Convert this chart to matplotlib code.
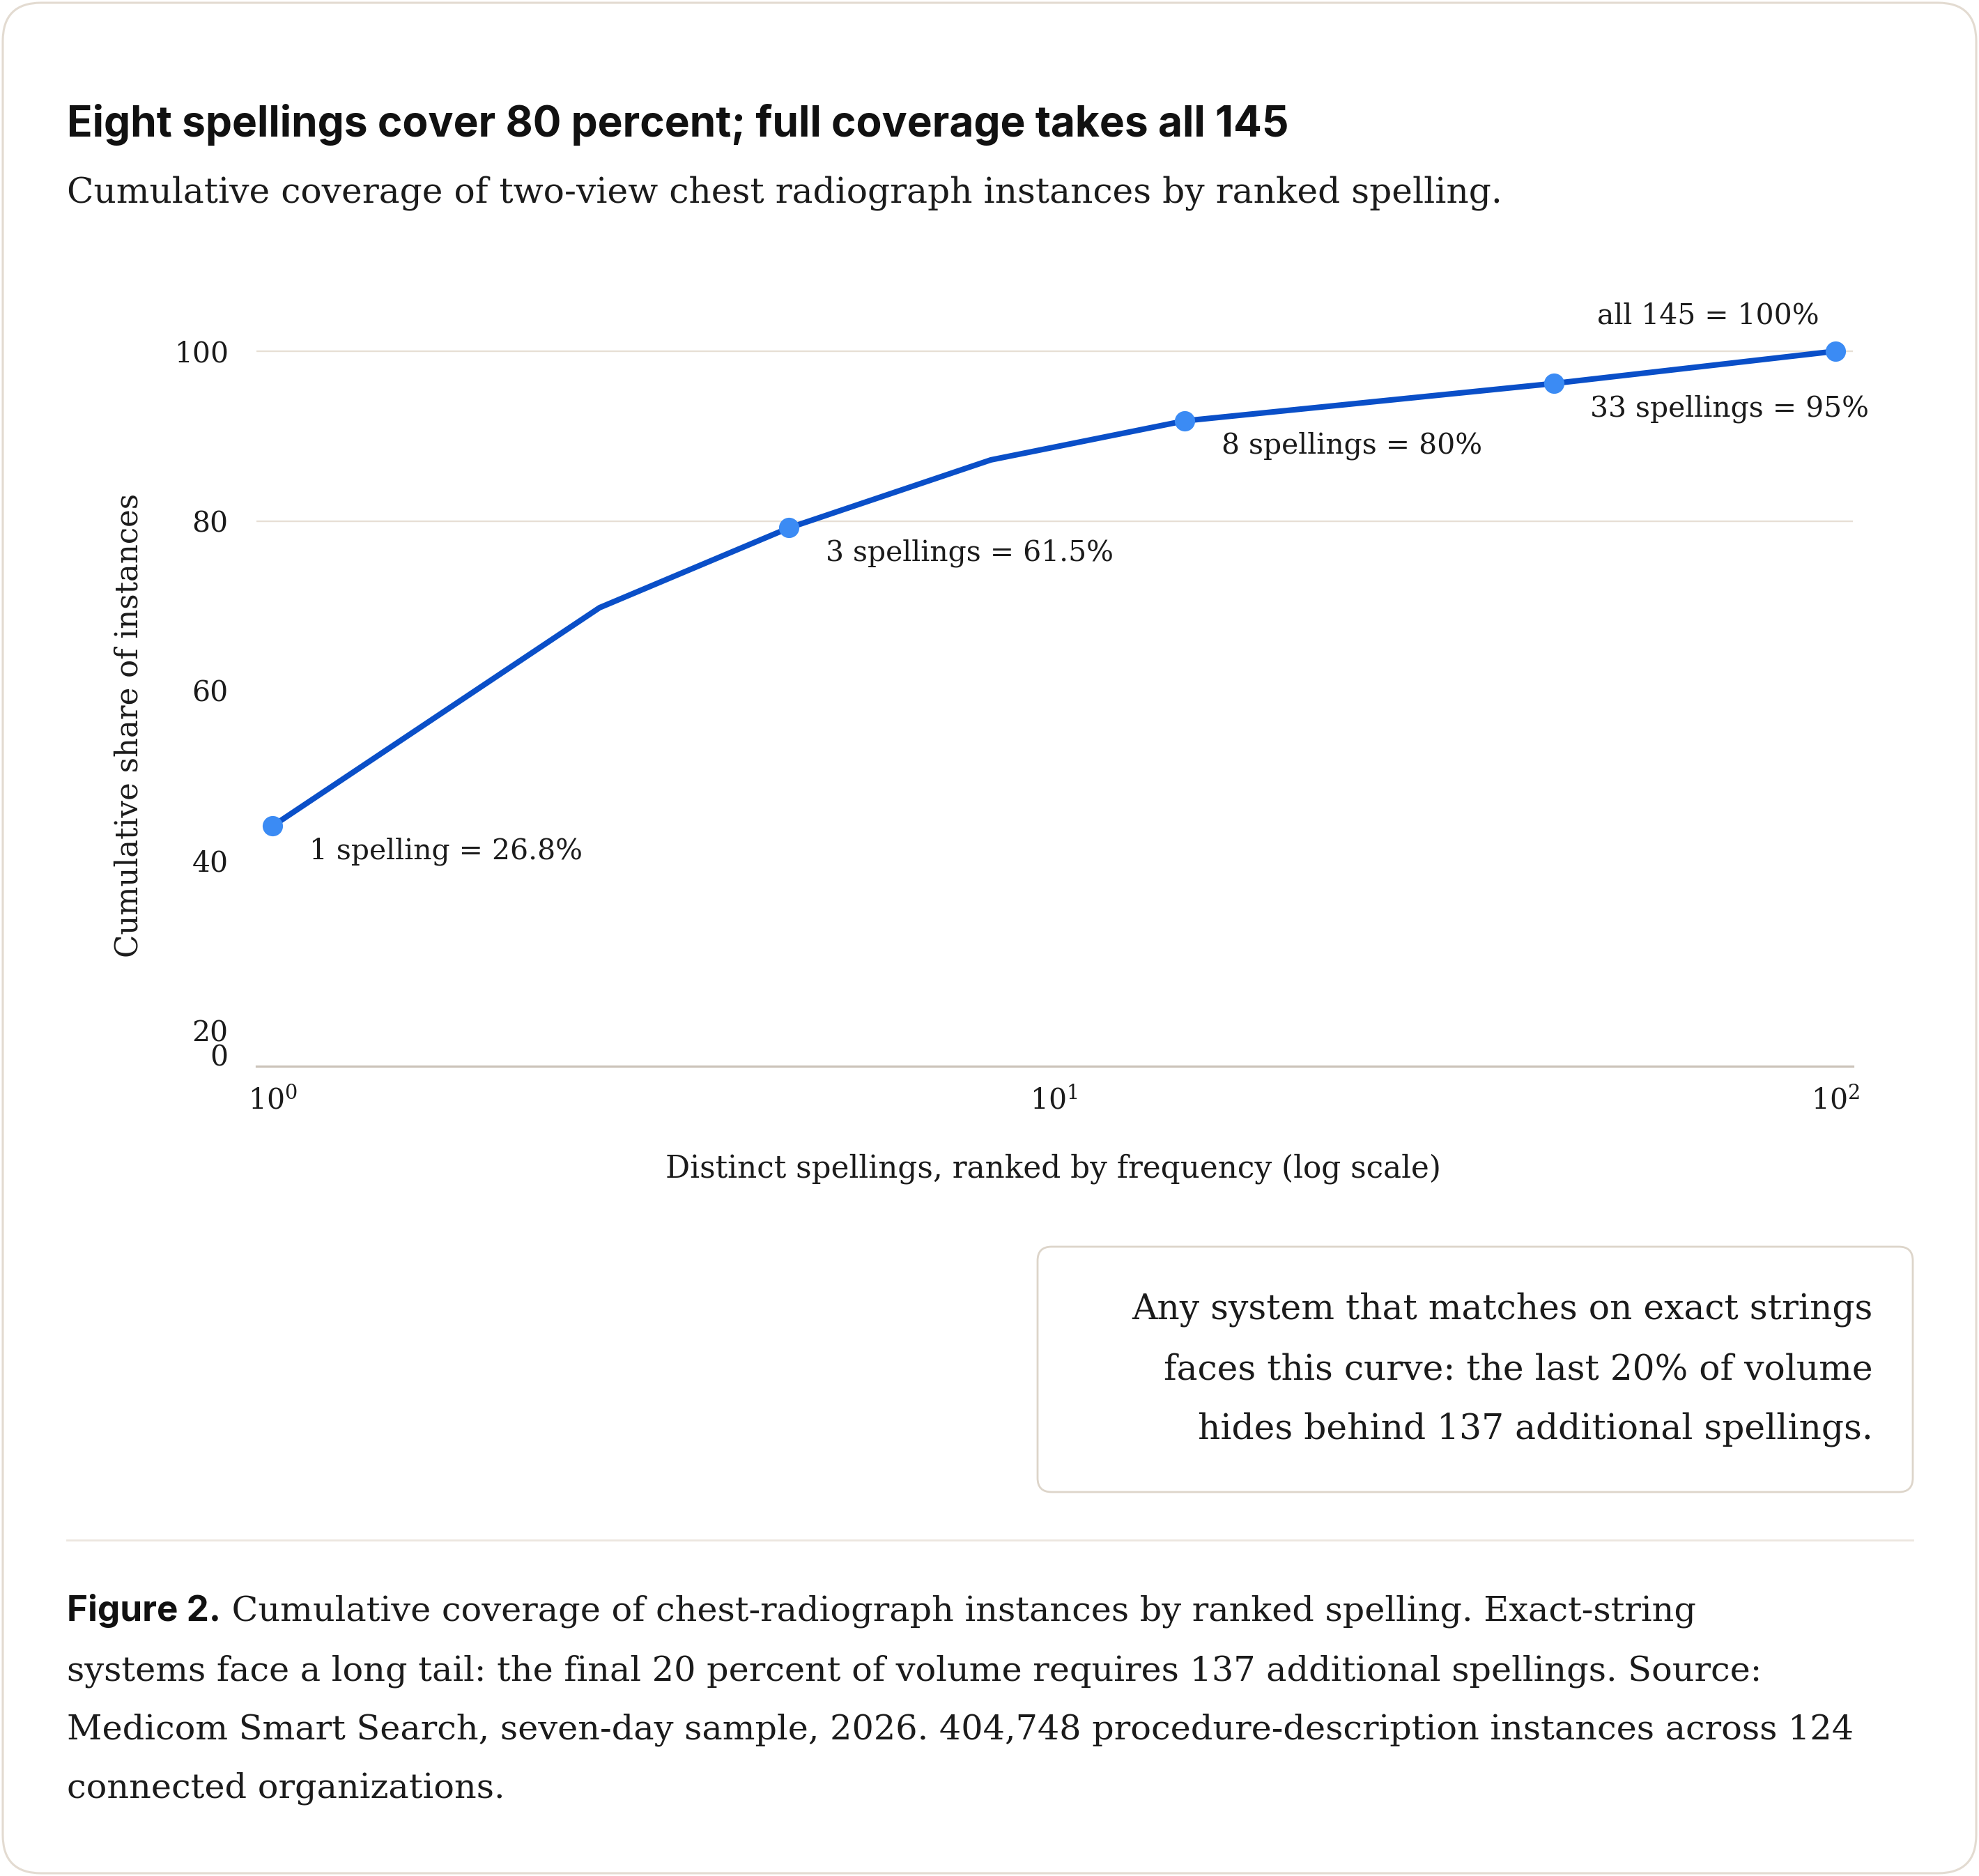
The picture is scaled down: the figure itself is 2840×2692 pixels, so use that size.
import matplotlib
matplotlib.use('Agg')
import matplotlib.pyplot as plt
from matplotlib.patches import FancyBboxPatch
from matplotlib.lines import Line2D
from matplotlib.transforms import IdentityTransform
from matplotlib.ticker import FixedLocator, LogFormatterSciNotation, NullLocator

# ---------------- data ----------------
ranks = [1, 2.62, 4.58, 8.3, 14.7, 43.6, 100]
shares = [44.1, 69.8, 79.2, 87.2, 91.8, 96.2, 100]
marked_idx = [0, 2, 4, 5, 6]
point_labels = ['1 spelling = 26.8%', '3 spellings = 61.5%', '8 spellings = 80%',
                '33 spellings = 95%', 'all 145 = 100%']
y_ticks = [100, 80, 60, 40, 20, 17.1]
y_tick_labels = ['100', '80', '60', '40', '20', '0']
x_ticks = [1, 10, 100]
grid_values = [100, 80]

title = 'Eight spellings cover 80 percent; full coverage takes all 145'
subtitle = 'Cumulative coverage of two-view chest radiograph instances by ranked spelling.'
x_label = 'Distinct spellings, ranked by frequency (log scale)'
y_label = 'Cumulative share of instances'
callout_lines = ['Any system that matches on exact strings',
                 'faces this curve: the last 20% of volume',
                 'hides behind 137 additional spellings.']
caption_lead = 'Figure 2.'
caption_lines = [' Cumulative coverage of chest-radiograph instances by ranked spelling. Exact-string',
                 'systems face a long tail: the final 20 percent of volume requires 137 additional spellings. Source:',
                 'Medicom Smart Search, seven-day sample, 2026. 404,748 procedure-description instances across 124',
                 'connected organizations.']

# ---------------- style ----------------
W, H = 2840, 2692
SERIF = 'DejaVu Serif'
SANS = 'Inter'
plt.rcParams['font.family'] = SERIF
plt.rcParams['mathtext.fontset'] = 'dejavuserif'
TXT = '#1b1b1b'
LINE_C = '#0a4fc8'
DOT_C = '#3b8bf4'
GRID_C = '#e7dfd5'
AXIS_C = '#cbc3b9'
BORDER_C = '#e3dbd1'

fig = plt.figure(figsize=(W / 100, H / 100), dpi=100)
fig.patch.set_facecolor('white')
renderer = fig.canvas.get_renderer()


def fx(x):
    return x / W


def fy(y):
    return 1 - y / H


def text_width(s, size, family, weight='normal', rotation=0):
    t = fig.text(0, 0, s, fontsize=size, family=family, weight=weight)
    w = t.get_window_extent(renderer).width
    t.remove()
    return w


def fit_size(s, target, family, weight='normal'):
    return 30 * target / text_width(s, 30, family, weight)


# card border
fig.add_artist(FancyBboxPatch((4, 4), W - 8, H - 8,
                              boxstyle='round,pad=0,rounding_size=55',
                              transform=IdentityTransform(), facecolor='white',
                              edgecolor=BORDER_C, linewidth=2.2, zorder=0))

# title & subtitle
ts = fit_size(title, 1755, SANS, 'bold')
fig.text(fx(96), fy(196), title, fontsize=ts, family=SANS, weight='bold',
         color='#111111', va='baseline', ha='left')
ss = fit_size(subtitle, 2059, SERIF)
fig.text(fx(96), fy(290), subtitle, fontsize=ss, family=SERIF, color=TXT,
         va='baseline', ha='left')

# ---------------- axes ----------------
ax_left, ax_right, ax_top, ax_bottom = 368, 2659, 440, 1530
ax = fig.add_axes([fx(ax_left), fy(ax_bottom), (ax_right - ax_left) / W, (ax_bottom - ax_top) / H])
ax.set_facecolor('none')
ax.set_xscale('log')
ax.set_xlim(0.953, 105.3)
ax.set_ylim(15.8, 105.25)
for side in ['top', 'right', 'left']:
    ax.spines[side].set_visible(False)
ax.spines['bottom'].set_color(AXIS_C)
ax.spines['bottom'].set_linewidth(2.3)

for g in grid_values:
    ax.axhline(g, color=GRID_C, lw=1.7, zorder=1)

ax.plot(ranks, shares, color=LINE_C, lw=5.8, solid_capstyle='round',
        solid_joinstyle='round', zorder=3)
ax.plot([ranks[i] for i in marked_idx], [shares[i] for i in marked_idx],
        ls='none', marker='o', ms=21, color=DOT_C, mec='none', zorder=4)

ls_ = fit_size(point_labels[0], 392, SERIF)
xls = fit_size(x_label, 1114, SERIF)
yls = fit_size(y_label, 668, SERIF)

ax.yaxis.set_major_locator(FixedLocator(y_ticks))
ax.set_yticklabels(y_tick_labels)
ax.xaxis.set_major_locator(FixedLocator(x_ticks))
ax.xaxis.set_major_formatter(LogFormatterSciNotation())
ax.xaxis.set_minor_locator(NullLocator())
ax.tick_params(axis='y', length=0, pad=29, labelsize=ls_, labelcolor=TXT)
ax.tick_params(axis='x', length=0, pad=22, labelsize=ls_, labelcolor=TXT)

ax.set_xlabel(x_label, fontsize=xls, color=TXT)
ax.set_ylabel(y_label, fontsize=yls, color=TXT)
ax.xaxis.set_label_coords(0.4993, -0.135)
ax.yaxis.set_label_coords(-0.0799, 0.4486)
ax.xaxis.label.set_va('center')
ax.yaxis.label.set_va('center')

offsets = [(38, -26), (38, -26), (38, -26), (38, -26), (-17, 36.5)]
for k, i in enumerate(marked_idx):
    dx, dy = offsets[k]
    ax.annotate(point_labels[k], (ranks[i], shares[i]), xytext=(dx, dy),
                textcoords='offset points', ha='left' if dx > 0 else 'right',
                va='center', fontsize=ls_, color=TXT, annotation_clip=False, zorder=5)

# ---------------- callout ----------------
fig.add_artist(FancyBboxPatch((1489, H - 2141), 2745 - 1489, 2141 - 1789,
                              boxstyle='round,pad=0,rounding_size=20',
                              transform=IdentityTransform(), facecolor='white',
                              edgecolor='#ddd5ca', linewidth=2.0, zorder=1))
cs = fit_size(callout_lines[0], 1062, SERIF)
for line, yb in zip(callout_lines, [1893, 1980, 2065]):
    fig.text(fx(2688), fy(yb), line, fontsize=cs, color=TXT, ha='right', va='baseline')

# separator
fig.add_artist(Line2D([96, 2745], [H - 2210, H - 2210], transform=IdentityTransform(),
                      color='#ece6df', lw=2.0))

# ---------------- caption ----------------
caps = fit_size(caption_lines[2], 2563, SERIF)
t0 = fig.text(fx(96), fy(2326), caption_lead, fontsize=caps * 1.04, family=SANS,
              weight='bold', color='#111111', ha='left', va='baseline')
x_after = t0.get_window_extent(renderer).x1
fig.text(x_after / W, fy(2326), caption_lines[0], fontsize=caps, color=TXT,
         ha='left', va='baseline')
for line, yb in zip(caption_lines[1:], [2411, 2496, 2579]):
    fig.text(fx(96), fy(yb), line, fontsize=caps, color=TXT, ha='left', va='baseline')

fig.savefig('out.png', dpi=100, facecolor='white')
